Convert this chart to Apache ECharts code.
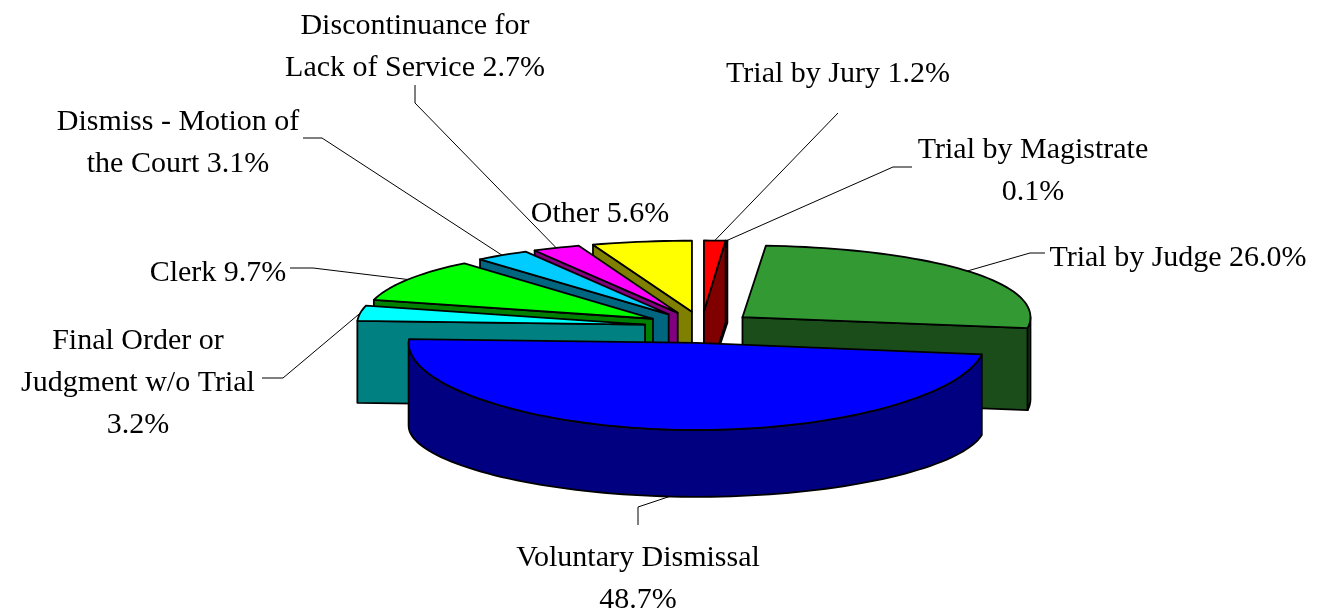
<!DOCTYPE html>
<html>
<head>
<meta charset="utf-8">
<title>Case dispositions</title>
<style>
  html, body { margin: 0; padding: 0; background: #fff; }
  #chart { width: 1317px; height: 610px; }
</style>
<script src="https://cdn.jsdelivr.net/npm/echarts@6/dist/echarts.min.js"></script>
</head>
<body>
<div id="chart"></div>
<script>
// clockwise from 12 o'clock, '\n' at the end puts the percent on its own line
const categories = [
  'Trial by Jury',
  'Trial by Magistrate\n',
  'Trial by Judge',
  'Voluntary Dismissal\n',
  'Final Order or\nJudgment w/o Trial\n',
  'Clerk',
  'Dismiss - Motion of\nthe Court',
  'Discontinuance for\nLack of Service',
  'Other'
]
const shares = [1.2, 0.1, 26.0, 48.7, 3.2, 9.7, 3.1, 2.7, 5.6]
const topColors = ['#ff0000', '#800000', '#339933', '#0000ff', '#00ffff', '#00ff00', '#00ccff', '#ff00ff', '#ffff00']
const sideColors = ['#800000', '#800000', '#1a4d1a', '#000080', '#008080', '#008000', '#006680', '#800080', '#808000']

// where each label sits and how its leader bends, same order as categories
const labelCenters = [[838, 72], [1033, 169], [1178, 256], [638, 577], [138, 381], [218, 271], [178, 141], [415, 45], [600, 212]]
const leaderBends = [
  [[838, 113]],
  [[893, 167], [912, 167]],
  [[1030, 253], [1045, 253]],
  [[638, 507], [638, 525]],
  [[283, 378], [262, 378]],
  [[313, 268], [290, 268]],
  [[322, 138], [303, 138]],
  [[415, 103], [415, 85]],
  []
]

// pie geometry, fitted to the picture
const cx = 702
const cy = 327
const radiusX = 288
const radiusY = 79
const perspective = 0.073
const explodeLeft = 0.2
const explodeRight = 0.18
const total = shares.reduce((a, b) => a + b, 0)

function project(X, Y, bottom) {
  const top = cy + radiusY * Y * (1 + perspective * Y)
  return [cx + radiusX * X, bottom ? top + Math.min(82, 86 - 16 * Y) : top]
}

let cumulative = 0
const slices = []
shares.forEach((v, i) => {
  const start = cumulative / total * Math.PI * 2
  cumulative += v
  const end = cumulative / total * Math.PI * 2
  const mid = (start + end) / 2
  // a hairline slice stays glued to the one before it
  const push = v < 0.5 && i > 0 ? slices[i - 1].mid : mid
  slices.push({
    index: i,
    start,
    end,
    mid,
    ox: (Math.sin(push) > 0 ? explodeRight : explodeLeft) * Math.sin(push),
    oy: -explodeLeft * Math.cos(push)
  })
})

function rimPoint(s, angle, bottom) {
  return project(s.ox + Math.sin(angle), s.oy - Math.cos(angle), bottom)
}

function arcPoints(s, from, to, bottom) {
  const pts = []
  const steps = Math.max(1, Math.ceil((to - from) / (Math.PI / 90)))
  for (let k = 0; k <= steps; k++) {
    pts.push(rimPoint(s, from + (to - from) * k / steps, bottom))
  }
  return pts
}

function face(points, fill) {
  return {
    type: 'polygon',
    shape: { points },
    style: { fill, stroke: '#000', lineWidth: 1.8, lineJoin: 'round' }
  }
}

function radialWall(s, angle, fill) {
  return face([
    project(s.ox, s.oy, false),
    rimPoint(s, angle, false),
    rimPoint(s, angle, true),
    project(s.ox, s.oy, true)
  ], fill)
}

function renderSlice(params, api) {
  const s = slices[api.value(0)]
  const side = sideColors[s.index]
  const children = []
  if (Math.sin(s.start) < 0) children.push(radialWall(s, s.start, side))
  if (Math.sin(s.end) > 0) children.push(radialWall(s, s.end, side))
  const wallFrom = Math.max(s.start, Math.PI / 2)
  const wallTo = Math.min(s.end, Math.PI * 1.5)
  if (wallTo > wallFrom) {
    children.push(face(
      arcPoints(s, wallFrom, wallTo, false).concat(arcPoints(s, wallFrom, wallTo, true).reverse()),
      side
    ))
  }
  children.push(face([project(s.ox, s.oy, false)].concat(arcPoints(s, s.start, s.end, false)), topColors[s.index]))
  return { type: 'group', children }
}

function renderLabel(params, api) {
  const i = api.value(0)
  const s = slices[i]
  const name = categories[i]
  const pct = shares[i].toFixed(1) + '%'
  const text = name.endsWith('\n') ? name + pct : name + ' ' + pct
  const children = []
  if (leaderBends[i].length) {
    const bottomRim = Math.cos(s.mid) < 0 && Math.abs(Math.sin(s.mid)) < 0.5
    children.push({
      type: 'polyline',
      shape: { points: [rimPoint(s, s.mid, bottomRim)].concat(leaderBends[i]) },
      style: { fill: null, stroke: '#000', lineWidth: 1 }
    })
  }
  children.push({
    type: 'text',
    style: {
      text,
      x: labelCenters[i][0],
      y: labelCenters[i][1] + 2,
      align: 'center',
      verticalAlign: 'middle',
      fontFamily: '"Liberation Serif", serif',
      fontSize: 30,
      lineHeight: 42,
      fill: '#000'
    }
  })
  return { type: 'group', children }
}

// painter's order: far slices first, the hairline behind its neighbour
const drawOrder = slices.slice().sort((a, b) => a.oy - b.oy || b.index - a.index).map(s => s.index)

const chart = echarts.init(document.getElementById('chart'), null, { renderer: 'canvas' })
chart.setOption({
  backgroundColor: '#fff',
  animation: false,
  series: [
    {
      type: 'custom',
      coordinateSystem: 'none',
      silent: true,
      z: 2,
      data: categories.map((c, i) => [i]),
      renderItem: renderLabel
    },
    {
      type: 'custom',
      coordinateSystem: 'none',
      silent: true,
      z: 3,
      data: drawOrder.map(i => [i]),
      renderItem: renderSlice
    }
  ]
})
</script>
</body>
</html>
